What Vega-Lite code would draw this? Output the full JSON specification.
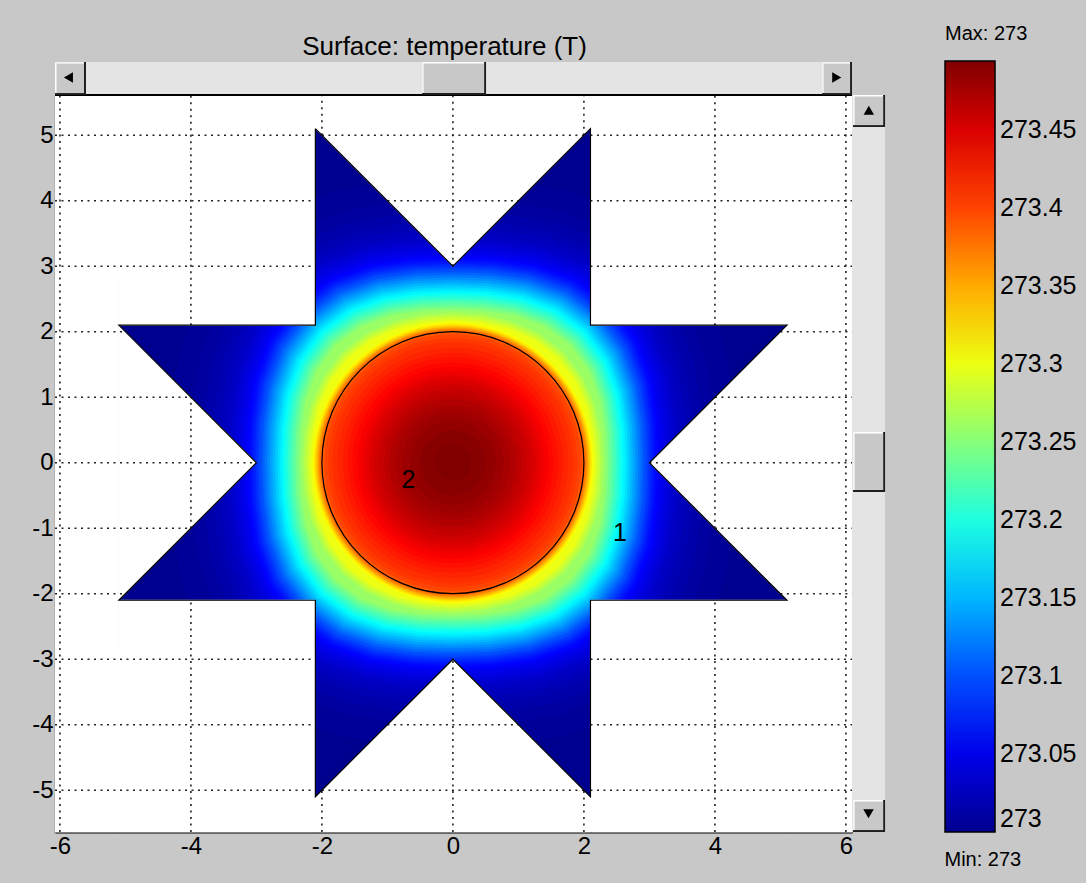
{
  "$schema": "https://vega.github.io/schema/vega-lite/v6.json",
  "width": 797,
  "height": 737,
  "autosize": {"type": "none"},
  "padding": {"left": 55, "top": 95, "right": 234, "bottom": 51},
  "background": "#C8C8C8",
  "title": {"text": "Surface: temperature (T)", "font": "Liberation Sans", "fontSize": 26, "fontWeight": "normal", "color": "black", "anchor": "middle", "frame": "group", "dx": -9, "dy": 40},
  "config": {
    "font": "Liberation Sans",
    "view": {"stroke": null, "fill": "white"},
    "axis": {"grid": false, "zindex": 1, "domainColor": "black", "domainWidth": 2, "tickColor": "black", "tickWidth": 1.5, "tickSize": -9, "labelFont": "Liberation Sans", "labelFontSize": 24, "labelColor": "black", "labelFlush": false, "labelOverlap": false, "labelPadding": 11, "labelExpr": "'' + datum.value"}
  },
  "datasets": {
    "bulge": [
      {"x":0,"y":0,"r":6.0,"t":273.0},
      {"x":0,"y":0,"r":4.7,"t":273.005},
      {"x":0,"y":0,"r":4.35,"t":273.01},
      {"x":0,"y":0,"r":4.15,"t":273.015},
      {"x":0,"y":0,"r":4.0,"t":273.02},
      {"x":0,"y":0,"r":3.88,"t":273.025},
      {"x":0,"y":0,"r":3.78,"t":273.03},
      {"x":0,"y":0,"r":3.7,"t":273.035},
      {"x":0,"y":0,"r":3.63,"t":273.04},
      {"x":0,"y":0,"r":3.57,"t":273.045},
      {"x":0,"y":0,"r":3.52,"t":273.05},
      {"x":0,"y":0,"r":3.47,"t":273.055},
      {"x":0,"y":0,"r":3.43,"t":273.06},
      {"x":0,"y":0,"r":3.395,"t":273.065},
      {"x":0,"y":0,"r":3.36,"t":273.07},
      {"x":0,"y":0,"r":3.33,"t":273.075},
      {"x":0,"y":0,"r":3.3,"t":273.08},
      {"x":0,"y":0,"r":3.275,"t":273.085},
      {"x":0,"y":0,"r":3.25,"t":273.09},
      {"x":0,"y":0,"r":3.227,"t":273.095},
      {"x":0,"y":0,"r":3.204,"t":273.1},
      {"x":0,"y":0,"r":3.162,"t":273.11},
      {"x":0,"y":0,"r":3.12,"t":273.12},
      {"x":0,"y":0,"r":3.079,"t":273.13},
      {"x":0,"y":0,"r":3.037,"t":273.14},
      {"x":0,"y":0,"r":2.995,"t":273.15},
      {"x":0,"y":0,"r":2.953,"t":273.16},
      {"x":0,"y":0,"r":2.911,"t":273.17},
      {"x":0,"y":0,"r":2.87,"t":273.18},
      {"x":0,"y":0,"r":2.828,"t":273.19},
      {"x":0,"y":0,"r":2.786,"t":273.2},
      {"x":0,"y":0,"r":2.744,"t":273.21},
      {"x":0,"y":0,"r":2.702,"t":273.22},
      {"x":0,"y":0,"r":2.661,"t":273.23},
      {"x":0,"y":0,"r":2.619,"t":273.24},
      {"x":0,"y":0,"r":2.577,"t":273.25},
      {"x":0,"y":0,"r":2.535,"t":273.26}
    ],
    "mild": [
      {"x":0,"y":0,"r":2.389,"t":273.27},
      {"x":0,"y":0,"r":2.349,"t":273.28},
      {"x":0,"y":0,"r":2.309,"t":273.29},
      {"x":0,"y":0,"r":2.269,"t":273.3}
    ],
    "round": [
      {"x":0,"y":0,"r":2.14,"t":273.31},
      {"x":0,"y":0,"r":2.12,"t":273.32},
      {"x":0,"y":0,"r":2.1,"t":273.33},
      {"x":0,"y":0,"r":2.085,"t":273.34},
      {"x":0,"y":0,"r":2.07,"t":273.35},
      {"x":0,"y":0,"r":2.055,"t":273.36},
      {"x":0,"y":0,"r":2.04,"t":273.37},
      {"x":0,"y":0,"r":2.025,"t":273.38},
      {"x":0,"y":0,"r":2.01,"t":273.39},
      {"x":0,"y":0,"r":1.96,"t":273.4},
      {"x":0,"y":0,"r":1.9,"t":273.405},
      {"x":0,"y":0,"r":1.84,"t":273.41},
      {"x":0,"y":0,"r":1.76,"t":273.415},
      {"x":0,"y":0,"r":1.68,"t":273.42},
      {"x":0,"y":0,"r":1.605,"t":273.425},
      {"x":0,"y":0,"r":1.53,"t":273.43},
      {"x":0,"y":0,"r":1.46,"t":273.435},
      {"x":0,"y":0,"r":1.39,"t":273.44},
      {"x":0,"y":0,"r":1.33,"t":273.445},
      {"x":0,"y":0,"r":1.27,"t":273.45},
      {"x":0,"y":0,"r":1.2,"t":273.455},
      {"x":0,"y":0,"r":1.13,"t":273.46},
      {"x":0,"y":0,"r":1.05,"t":273.465},
      {"x":0,"y":0,"r":0.97,"t":273.47},
      {"x":0,"y":0,"r":0.875,"t":273.475},
      {"x":0,"y":0,"r":0.77,"t":273.48},
      {"x":0,"y":0,"r":0.65,"t":273.485},
      {"x":0,"y":0,"r":0.5,"t":273.49},
      {"x":0,"y":0,"r":0.28,"t":273.494}
    ],
    "ring": [{"x":0,"y":0,"r":2}],
    "maskRects": [
      {"x":-6.075,"x2":-5.1,"y":-5.638,"y2":5.614},
      {"x":5.1,"x2":6.093,"y":-5.638,"y2":5.614},
      {"x":-5.1,"x2":-2.1,"y":2.1,"y2":5.614},
      {"x":2.1,"x2":5.1,"y":2.1,"y2":5.614},
      {"x":-5.1,"x2":-2.1,"y":-5.638,"y2":-2.1},
      {"x":2.1,"x2":5.1,"y":-5.638,"y2":-2.1}
    ],
    "maskV": [
      {"g":"top","x":-2.1,"y":5.1,"y2":5.614},
      {"g":"top","x":0,"y":3,"y2":5.614},
      {"g":"top","x":2.1,"y":5.1,"y2":5.614},
      {"g":"bot","x":-2.1,"y":-5.1,"y2":-5.638},
      {"g":"bot","x":0,"y":-3,"y2":-5.638},
      {"g":"bot","x":2.1,"y":-5.1,"y2":-5.638}
    ],
    "maskH": [
      {"g":"left","y":-2.1,"x":-5.1,"x2":-5.1},
      {"g":"left","y":0,"x":-3,"x2":-5.1},
      {"g":"left","y":2.1,"x":-5.1,"x2":-5.1},
      {"g":"right","y":-2.1,"x":5.1,"x2":5.1},
      {"g":"right","y":0,"x":3,"x2":5.1},
      {"g":"right","y":2.1,"x":5.1,"x2":5.1}
    ],
    "vgrid": [
      {"x":-6,"y":-5.638,"y2":5.614},
      {"x":-4,"y":2.1,"y2":5.614},{"x":-4,"y":-1,"y2":1},{"x":-4,"y":-5.638,"y2":-2.1},
      {"x":-2,"y":5,"y2":5.614},{"x":-2,"y":-5.638,"y2":-5},
      {"x":0,"y":3,"y2":5.614},{"x":0,"y":-5.638,"y2":-3},
      {"x":2,"y":5,"y2":5.614},{"x":2,"y":-5.638,"y2":-5},
      {"x":4,"y":2.1,"y2":5.614},{"x":4,"y":-1,"y2":1},{"x":4,"y":-5.638,"y2":-2.1},
      {"x":6,"y":-5.638,"y2":5.614}
    ],
    "hgrid": [
      {"y":5,"x":-6.075,"x2":-2.1},{"y":5,"x":-2,"x2":2},{"y":5,"x":2.1,"x2":6.093},
      {"y":4,"x":-6.075,"x2":-2.1},{"y":4,"x":-1,"x2":1},{"y":4,"x":2.1,"x2":6.093},
      {"y":3,"x":-6.075,"x2":-2.1},{"y":3,"x":2.1,"x2":6.093},
      {"y":2,"x":-6.075,"x2":-5},{"y":2,"x":5,"x2":6.093},
      {"y":1,"x":-6.075,"x2":-4},{"y":1,"x":4,"x2":6.093},
      {"y":0,"x":-6.075,"x2":-3},{"y":0,"x":3,"x2":6.093},
      {"y":-1,"x":-6.075,"x2":-4},{"y":-1,"x":4,"x2":6.093},
      {"y":-2,"x":-6.075,"x2":-5},{"y":-2,"x":5,"x2":6.093},
      {"y":-3,"x":-6.075,"x2":-2.1},{"y":-3,"x":2.1,"x2":6.093},
      {"y":-4,"x":-6.075,"x2":-2.1},{"y":-4,"x":-1,"x2":1},{"y":-4,"x":2.1,"x2":6.093},
      {"y":-5,"x":-6.075,"x2":-2.1},{"y":-5,"x":-2,"x2":2},{"y":-5,"x":2.1,"x2":6.093}
    ],
    "star": [
      {"i":0,"x":-2.1,"y":5.1},{"i":1,"x":0,"y":3},{"i":2,"x":2.1,"y":5.1},{"i":3,"x":2.1,"y":2.1},
      {"i":4,"x":5.1,"y":2.1},{"i":5,"x":3,"y":0},{"i":6,"x":5.1,"y":-2.1},{"i":7,"x":2.1,"y":-2.1},
      {"i":8,"x":2.1,"y":-5.1},{"i":9,"x":0,"y":-3},{"i":10,"x":-2.1,"y":-5.1},{"i":11,"x":-2.1,"y":-2.1},
      {"i":12,"x":-5.1,"y":-2.1},{"i":13,"x":-3,"y":0},{"i":14,"x":-5.1,"y":2.1},{"i":15,"x":-2.1,"y":2.1},
      {"i":16,"x":-2.1,"y":5.1}
    ],
    "labels": [
      {"x":-0.68,"y":-0.26,"label":"2"},
      {"x":2.55,"y":-1.08,"label":"1"}
    ],
    "tracks": [
      {"x":-6.075,"x2":6.093,"y":5.614,"y2":6.117},
      {"x":6.109,"x2":6.598,"y":-5.638,"y2":5.614}
    ],
    "frame": [{"x":-6.075,"x2":6.093,"y":5.614}],
    "btnDark": [
      {"x":-6.075,"x2":-5.602,"y":5.614,"y2":6.117},
      {"x":5.636,"x2":6.093,"y":5.614,"y2":6.117},
      {"x":-0.471,"x2":0.506,"y":5.614,"y2":6.117},
      {"x":6.109,"x2":6.598,"y":5.125,"y2":5.614},
      {"x":6.109,"x2":6.598,"y":-5.638,"y2":-5.149},
      {"x":6.109,"x2":6.598,"y":-0.447,"y2":0.469}
    ],
    "btnLight": [
      {"x":-6.075,"x2":-5.632,"y":5.644,"y2":6.117},
      {"x":5.636,"x2":6.063,"y":5.644,"y2":6.117},
      {"x":-0.471,"x2":0.476,"y":5.644,"y2":6.117},
      {"x":6.109,"x2":6.568,"y":5.155,"y2":5.614},
      {"x":6.109,"x2":6.568,"y":-5.608,"y2":-5.149},
      {"x":6.109,"x2":6.568,"y":-0.417,"y2":0.469}
    ],
    "btnFace": [
      {"x":-6.052,"x2":-5.632,"y":5.644,"y2":6.094},
      {"x":5.659,"x2":6.063,"y":5.644,"y2":6.094},
      {"x":-0.448,"x2":0.476,"y":5.644,"y2":6.094},
      {"x":6.132,"x2":6.568,"y":5.155,"y2":5.591},
      {"x":6.132,"x2":6.568,"y":-5.608,"y2":-5.172},
      {"x":6.132,"x2":6.568,"y":-0.417,"y2":0.446}
    ],
    "arrows": [
      {"x":-5.87,"y":5.88,"dir":"left"},
      {"x":5.86,"y":5.88,"dir":"right"},
      {"x":6.35,"y":5.38,"dir":"up"},
      {"x":6.345,"y":-5.36,"dir":"down"}
    ]
  },
  "encoding": {
    "x": {"field": "x", "type": "quantitative", "scale": {"domain": [-6.075, 6.093], "nice": false, "zero": false},
          "axis": {"values": [-6, -4, -2, 0, 2, 4, 6], "title": "Min: 273", "titleX": 889, "titleY": 33, "titleAlign": "left", "titleAnchor": "start", "titleBaseline": "alphabetic", "titleFont": "Liberation Sans", "titleFontSize": 20, "titleFontWeight": "normal", "titleColor": "black"}},
    "y": {"field": "y", "type": "quantitative", "scale": {"domain": [-5.638, 5.614], "nice": false, "zero": false},
          "axis": {"values": [-5, -4, -3, -2, -1, 0, 1, 2, 3, 4, 5], "title": null}}
  },
  "layer": [
    {
      "data": {"name": "bulge"},
      "mark": {"type": "point", "shape": "M0.92,0L0.9138,0.1818L0.8869,0.3674L0.8217,0.5491L0.7071,0.7071L0.5491,0.8217L0.3674,0.8869L0.1818,0.9138L0,0.92L-0.1818,0.9138L-0.3674,0.8869L-0.5491,0.8217L-0.7071,0.7071L-0.8217,0.5491L-0.8869,0.3674L-0.9138,0.1818L-0.92,0L-0.9138,-0.1818L-0.8869,-0.3674L-0.8217,-0.5491L-0.7071,-0.7071L-0.5491,-0.8217L-0.3674,-0.8869L-0.1818,-0.9138L0,-0.92L0.1818,-0.9138L0.3674,-0.8869L0.5491,-0.8217L0.7071,-0.7071L0.8217,-0.5491L0.8869,-0.3674L0.9138,-0.1818Z", "filled": true, "opacity": 1, "strokeWidth": 0},
      "encoding": {
        "size": {"field": "r", "type": "quantitative", "scale": {"type": "pow", "exponent": 2, "domain": [0, 6], "range": [0, 617796]}, "legend": null},
        "color": {"field": "t", "type": "quantitative",
                  "scale": {"domain": [273, 273.06175, 273.18525, 273.30875, 273.43225, 273.494], "range": ["#00008F", "#0000FF", "#00FFFF", "#FFFF00", "#FF0000", "#800000"], "interpolate": "rgb"},
                  "legend": {"orient": "none", "legendX": 890, "legendY": -71, "direction": "vertical", "padding": 0, "title": "Max: 273", "titleFont": "Liberation Sans", "titleFontSize": 20, "titleFontWeight": "normal", "titleColor": "black", "titleAnchor": "start", "titlePadding": 17, "gradientLength": 771, "gradientThickness": 50, "gradientStrokeColor": "black", "gradientStrokeWidth": 1.5, "labelFont": "Liberation Sans", "labelFontSize": 25, "labelColor": "black", "labelOffset": 5, "labelOverlap": false, "labelBaseline": "middle", "values": [273, 273.05, 273.1, 273.15, 273.2, 273.25, 273.3, 273.35, 273.4, 273.45], "format": "~g"}}
      }
    },
    {
      "data": {"name": "mild"},
      "mark": {"type": "point", "shape": "M0.96,0L0.9473,0.1884L0.9054,0.375L0.8266,0.5523L0.7071,0.7071L0.5523,0.8266L0.375,0.9054L0.1884,0.9473L0,0.96L-0.1884,0.9473L-0.375,0.9054L-0.5523,0.8266L-0.7071,0.7071L-0.8266,0.5523L-0.9054,0.375L-0.9473,0.1884L-0.96,0L-0.9473,-0.1884L-0.9054,-0.375L-0.8266,-0.5523L-0.7071,-0.7071L-0.5523,-0.8266L-0.375,-0.9054L-0.1884,-0.9473L0,-0.96L0.1884,-0.9473L0.375,-0.9054L0.5523,-0.8266L0.7071,-0.7071L0.8266,-0.5523L0.9054,-0.375L0.9473,-0.1884Z", "filled": true, "opacity": 1, "strokeWidth": 0},
      "encoding": {
        "size": {"field": "r", "type": "quantitative", "scale": {"type": "pow", "exponent": 2, "domain": [0, 6], "range": [0, 617796]}, "legend": null},
        "color": {"field": "t", "type": "quantitative",
                  "scale": {"domain": [273, 273.06175, 273.18525, 273.30875, 273.43225, 273.494], "range": ["#00008F", "#0000FF", "#00FFFF", "#FFFF00", "#FF0000", "#800000"], "interpolate": "rgb"},
                  "legend": {"orient": "none", "legendX": 890, "legendY": -71, "direction": "vertical", "padding": 0, "title": "Max: 273", "titleFont": "Liberation Sans", "titleFontSize": 20, "titleFontWeight": "normal", "titleColor": "black", "titleAnchor": "start", "titlePadding": 17, "gradientLength": 771, "gradientThickness": 50, "gradientStrokeColor": "black", "gradientStrokeWidth": 1.5, "labelFont": "Liberation Sans", "labelFontSize": 25, "labelColor": "black", "labelOffset": 5, "labelOverlap": false, "labelBaseline": "middle", "values": [273, 273.05, 273.1, 273.15, 273.2, 273.25, 273.3, 273.35, 273.4, 273.45], "format": "~g"}}
      }
    },
    {
      "data": {"name": "round"},
      "mark": {"type": "point", "shape": "M1,0A1,1,0,1,1,-1,0A1,1,0,1,1,1,0Z", "filled": true, "opacity": 1, "strokeWidth": 0},
      "encoding": {
        "size": {"field": "r", "type": "quantitative", "scale": {"type": "pow", "exponent": 2, "domain": [0, 6], "range": [0, 617796]}, "legend": null},
        "color": {"field": "t", "type": "quantitative",
                  "scale": {"domain": [273, 273.06175, 273.18525, 273.30875, 273.43225, 273.494], "range": ["#00008F", "#0000FF", "#00FFFF", "#FFFF00", "#FF0000", "#800000"], "interpolate": "rgb"},
                  "legend": {"orient": "none", "legendX": 890, "legendY": -71, "direction": "vertical", "padding": 0, "title": "Max: 273", "titleFont": "Liberation Sans", "titleFontSize": 20, "titleFontWeight": "normal", "titleColor": "black", "titleAnchor": "start", "titlePadding": 17, "gradientLength": 771, "gradientThickness": 50, "gradientStrokeColor": "black", "gradientStrokeWidth": 1.5, "labelFont": "Liberation Sans", "labelFontSize": 25, "labelColor": "black", "labelOffset": 5, "labelOverlap": false, "labelBaseline": "middle", "values": [273, 273.05, 273.1, 273.15, 273.2, 273.25, 273.3, 273.35, 273.4, 273.45], "format": "~g"}}
      }
    },
    {
      "data": {"name": "maskRects"},
      "mark": {"type": "rect", "fill": "white", "stroke": "white", "strokeWidth": 1},
      "encoding": {"x2": {"field": "x2"}, "y2": {"field": "y2"}}
    },
    {
      "data": {"name": "maskV"},
      "mark": {"type": "area", "orient": "vertical", "fill": "white", "stroke": "white", "strokeWidth": 1, "opacity": 1},
      "encoding": {"y2": {"field": "y2"}, "detail": {"field": "g", "type": "nominal"}}
    },
    {
      "data": {"name": "maskH"},
      "mark": {"type": "area", "orient": "horizontal", "fill": "white", "stroke": "white", "strokeWidth": 1, "opacity": 1},
      "encoding": {"x2": {"field": "x2"}, "detail": {"field": "g", "type": "nominal"}}
    },
    {
      "data": {"name": "vgrid"},
      "mark": {"type": "rule", "color": "#222222", "strokeWidth": 1.6, "strokeDash": [2, 4.5]},
      "encoding": {"y2": {"field": "y2"}}
    },
    {
      "data": {"name": "hgrid"},
      "mark": {"type": "rule", "color": "#222222", "strokeWidth": 1.6, "strokeDash": [2, 4.5]},
      "encoding": {"x2": {"field": "x2"}}
    },
    {
      "data": {"name": "star"},
      "mark": {"type": "line", "color": "black", "strokeWidth": 1.2},
      "encoding": {"order": {"field": "i", "type": "quantitative"}}
    },
    {
      "data": {"name": "ring"},
      "mark": {"type": "point", "shape": "M1,0A1,1,0,1,1,-1,0A1,1,0,1,1,1,0Z", "filled": false, "stroke": "black", "strokeWidth": 1.2, "opacity": 1},
      "encoding": {"size": {"field": "r", "type": "quantitative", "scale": {"type": "pow", "exponent": 2, "domain": [0, 6], "range": [0, 617796]}, "legend": null}}
    },
    {
      "data": {"name": "labels"},
      "mark": {"type": "text", "font": "Liberation Sans", "fontSize": 25, "color": "black"},
      "encoding": {"text": {"field": "label"}}
    },
    {
      "data": {"name": "tracks"},
      "mark": {"type": "rect", "fill": "#E4E4E4"},
      "encoding": {"x2": {"field": "x2"}, "y2": {"field": "y2"}}
    },
    {
      "data": {"name": "frame"},
      "mark": {"type": "rule", "color": "black", "strokeWidth": 2},
      "encoding": {"x2": {"field": "x2"}}
    },
    {
      "data": {"name": "btnDark"},
      "mark": {"type": "rect", "fill": "#1E1E1E"},
      "encoding": {"x2": {"field": "x2"}, "y2": {"field": "y2"}}
    },
    {
      "data": {"name": "btnLight"},
      "mark": {"type": "rect", "fill": "#FFFFFF"},
      "encoding": {"x2": {"field": "x2"}, "y2": {"field": "y2"}}
    },
    {
      "data": {"name": "btnFace"},
      "mark": {"type": "rect", "fill": "#C8C8C8"},
      "encoding": {"x2": {"field": "x2"}, "y2": {"field": "y2"}}
    },
    {
      "data": {"name": "arrows"},
      "mark": {"type": "point", "filled": true, "color": "black", "opacity": 1, "size": 110},
      "encoding": {"shape": {"field": "dir", "type": "nominal", "scale": {"domain": ["left", "right", "up", "down"], "range": ["triangle-left", "triangle-right", "triangle-up", "triangle-down"]}, "legend": null}}
    }
  ]
}
